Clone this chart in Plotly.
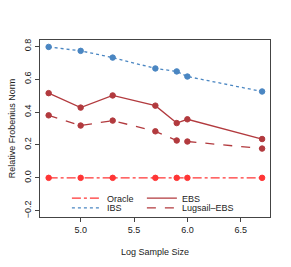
import plotly.graph_objects as go

log_n = [4.70, 5.00, 5.30, 5.70, 5.90, 6.00, 6.70]
oracle = [0, 0, 0, 0, 0, 0, 0]
ibs = [0.796, 0.772, 0.731, 0.665, 0.647, 0.616, 0.525]
ebs = [0.515, 0.427, 0.501, 0.439, 0.333, 0.356, 0.236]
lugsail = [0.380, 0.318, 0.348, 0.283, 0.227, 0.221, 0.178]
y_ticks = [-0.2, 0.0, 0.2, 0.4, 0.6, 0.8]
x_ticks = [5.0, 5.5, 6.0, 6.5]

BLUE = "#4a86c2"
DRED = "#b23a3e"
RED = "#ff3535"
FONT = "Liberation Sans, Arial, sans-serif"

series = [
    ("Oracle", oracle, RED, "dashdot", "legend"),
    ("IBS", ibs, BLUE, "dot", "legend2"),
    ("EBS", ebs, DRED, "solid", "legend3"),
    ("Lugsail\u2013EBS", lugsail, DRED, "dash", "legend4"),
]

fig = go.Figure()
for name, ys, col, dash, lg in series:
    fig.add_trace(go.Scatter(
        x=log_n, y=ys, mode="lines+markers", showlegend=False,
        line=dict(color=col, width=1.3, dash=dash),
        marker=dict(color=col, size=5.5, line=dict(color=col, width=1)),
    ))
for name, ys, col, dash, lg in series:
    fig.add_trace(go.Scatter(
        x=[None], y=[None], mode="lines", name=name, legend=lg,
        line=dict(color=col, width=1.3, dash=dash),
    ))

# plot area: x 40..270, y 40..217
def leg(xp, yp):
    return dict(x=xp, y=yp, xanchor="left", yanchor="middle",
                bgcolor="rgba(0,0,0,0)", borderwidth=0,
                font=dict(family=FONT, size=9, color="#222"),
                itemwidth=30, tracegroupgap=0)

fig.update_layout(
    width=291, height=267,
    margin=dict(l=40, r=21, t=40, b=50, autoexpand=False),
    paper_bgcolor="white", plot_bgcolor="white",
    font=dict(family=FONT, size=9, color="#222"),
    legend=leg(0.117, 0.107),
    legend2=leg(0.117, 0.051),
    legend3=leg(0.443, 0.107),
    legend4=leg(0.443, 0.051),
    xaxis=dict(
        range=[4.619, 6.774], tickvals=x_ticks, ticktext=[f"{v:.1f}" for v in x_ticks],
        automargin=False,
        showgrid=False, zeroline=False, showline=True, linecolor="#444", linewidth=1,
        mirror=True, ticks="outside", ticklen=4, tickcolor="#444",
        tickfont=dict(family=FONT, size=9, color="#222"),
        title=dict(text="Log Sample Size", font=dict(family=FONT, size=9, color="#222"), standoff=14),
    ),
    yaxis=dict(
        range=[-0.238, 0.838], tickvals=y_ticks, ticktext=[f"{v:.1f}".replace("-", "\u2212") for v in y_ticks],
        tickangle=-90, automargin=False,
        showgrid=False, zeroline=False, showline=True, linecolor="#444", linewidth=1,
        mirror=True, ticks="outside", ticklen=4, tickcolor="#444",
        tickfont=dict(family=FONT, size=9, color="#222"),
        title=dict(text="Relative Frobenius Norm", font=dict(family=FONT, size=9, color="#222"), standoff=6),
    ),
)

fig.write_html("out.html", config={"displayModeBar": False},
               post_script="document.body.style.margin='0';document.body.style.overflow='hidden';")
